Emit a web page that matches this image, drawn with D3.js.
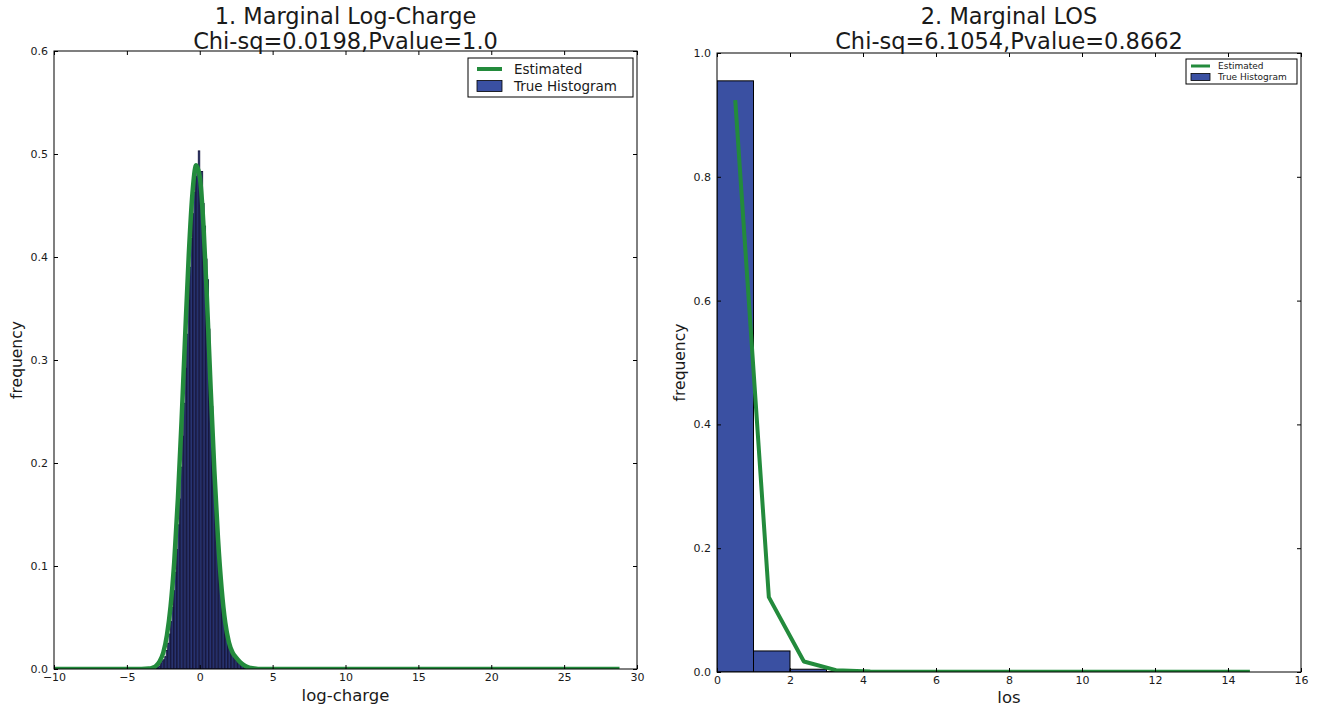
<!DOCTYPE html>
<html>
<head>
<meta charset="utf-8">
<script src="https://cdn.jsdelivr.net/npm/d3@7"></script>
<style>
  body { margin: 0; background: #fff; }
  text { font-family: "DejaVu Sans", sans-serif; fill: #1a1a1a; }
</style>
</head>
<body>
<svg id="chart" width="1320" height="707"></svg>
<script>
// ---- data: panel 1, log-charge ----
const chargeBinStart = -3.0;
const chargeBinWidth = 0.1;
const chargeHist = [
  0.001, 0.002, 0.003, 0.006, 0.008, 0.009, 0.012, 0.018, 0.025, 0.034,
  0.046, 0.060, 0.076, 0.094, 0.116, 0.140, 0.165, 0.196, 0.226, 0.258,
  0.292, 0.325, 0.358, 0.390, 0.418, 0.442, 0.463, 0.478, 0.489, 0.503,
  0.478, 0.483, 0.452, 0.430, 0.398, 0.378, 0.330, 0.292, 0.255, 0.219,
  0.185, 0.155, 0.128, 0.104, 0.084, 0.072, 0.060, 0.045, 0.035, 0.027,
  0.021, 0.017, 0.014, 0.011, 0.009, 0.008, 0.006, 0.005, 0.004, 0.003,
  0.002, 0.002, 0.001, 0.001
];
const chargeEstX = [-10, -4, -3.5, -3.25, -3, -2.75, -2.5, -2.25, -2, -1.75, -1.5, -1.25, -1, -0.75, -0.5, -0.25,
  0, 0.25, 0.5, 0.75, 1, 1.25, 1.5, 1.75, 2, 2.25, 2.5, 2.75, 3, 3.25, 3.5, 3.75, 4, 5, 28.8];
const chargeEstY = [0, 0.0001, 0.0004, 0.0012, 0.003, 0.0075, 0.016, 0.033, 0.061, 0.104, 0.165, 0.240, 0.324, 0.403, 0.462, 0.489,
  0.478, 0.432, 0.357, 0.272, 0.193, 0.127, 0.078, 0.045, 0.026, 0.016, 0.011, 0.007, 0.004, 0.002, 0.001, 0.0004, 0.0001, 0, 0];
const chargeXTicks = [-10, -5, 0, 5, 10, 15, 20, 25, 30];
const chargeYTicks = [0.0, 0.1, 0.2, 0.3, 0.4, 0.5, 0.6];

// ---- data: panel 2, LOS ----
const losBinEdges = [0, 1, 2, 3, 4];
const losHist = [0.955, 0.034, 0.0045, 0.0006];
const losEstX = [0.5, 1.42, 2.38, 3.26, 4.2, 6, 8, 10, 12, 14.6];
const losEstY = [0.924, 0.121, 0.017, 0.003, 0.0008, 0.0004, 0.0003, 0.0003, 0.0003, 0.0003];
const losXTicks = [0, 2, 4, 6, 8, 10, 12, 14, 16];
const losYTicks = [0.0, 0.2, 0.4, 0.6, 0.8, 1.0];

const green = "#238b3c";
const blue = "#3a50a2";

const svg = d3.select("#chart");

function panel(cfg) {
  const x = d3.scaleLinear().domain(cfg.xDomain).range([cfg.left, cfg.right]);
  const y = d3.scaleLinear().domain(cfg.yDomain).range([cfg.bottom, cfg.top]);
  const g = svg.append("g");

  const clipId = "clip" + cfg.id;
  g.append("clipPath").attr("id", clipId)
    .append("rect")
    .attr("x", cfg.left).attr("y", cfg.top)
    .attr("width", cfg.right - cfg.left).attr("height", cfg.bottom - cfg.top);

  const plot = g.append("g").attr("clip-path", `url(#${clipId})`);

  plot.selectAll("rect.bar")
    .data(cfg.bars)
    .join("rect")
    .attr("class", "bar")
    .attr("x", d => x(d.x0))
    .attr("width", d => x(d.x1) - x(d.x0))
    .attr("y", d => y(d.v))
    .attr("height", d => y(0) - y(d.v))
    .attr("fill", blue)
    .attr("stroke", cfg.barStroke)
    .attr("stroke-width", cfg.barStrokeWidth);

  plot.append("path")
    .datum(cfg.est)
    .attr("fill", "none")
    .attr("stroke", green)
    .attr("stroke-width", cfg.lineWidth)
    .attr("stroke-linejoin", "round")
    .attr("d", d3.line().x(d => x(d[0])).y(d => y(d[1])).curve(cfg.curve));

  // frame
  g.append("rect")
    .attr("x", cfg.left).attr("y", cfg.top)
    .attr("width", cfg.right - cfg.left).attr("height", cfg.bottom - cfg.top)
    .attr("fill", "none").attr("stroke", "#000").attr("stroke-width", 1);

  // axes with inward ticks on all four sides
  const tl = 4;
  g.append("g").attr("transform", `translate(0,${cfg.bottom})`)
    .call(d3.axisBottom(x).tickValues(cfg.xTicks).tickSizeInner(-tl).tickSizeOuter(0).tickPadding(4)
      .tickFormat(d => d < 0 ? "\u2212" + Math.abs(d) : d))
    .call(a => a.select(".domain").remove())
    .call(a => a.selectAll("text").attr("font-size", 11).attr("font-family", "DejaVu Sans"));
  g.append("g").attr("transform", `translate(0,${cfg.top})`)
    .call(d3.axisTop(x).tickValues(cfg.xTicks).tickSizeInner(-tl).tickSizeOuter(0).tickFormat(""))
    .call(a => a.select(".domain").remove());
  g.append("g").attr("transform", `translate(${cfg.left},0)`)
    .call(d3.axisLeft(y).tickValues(cfg.yTicks).tickSizeInner(-tl).tickSizeOuter(0).tickPadding(6)
      .tickFormat(d3.format(".1f")))
    .call(a => a.select(".domain").remove())
    .call(a => a.selectAll("text").attr("font-size", 11).attr("font-family", "DejaVu Sans"));
  g.append("g").attr("transform", `translate(${cfg.right},0)`)
    .call(d3.axisRight(y).tickValues(cfg.yTicks).tickSizeInner(-tl).tickSizeOuter(0).tickFormat(""))
    .call(a => a.select(".domain").remove());

  const cx = (cfg.left + cfg.right) / 2;
  g.append("text").attr("x", cx).attr("y", 24).attr("text-anchor", "middle")
    .attr("font-size", 22.5).text(cfg.title1);
  g.append("text").attr("x", cx).attr("y", 49).attr("text-anchor", "middle")
    .attr("font-size", 22.5).text(cfg.title2);

  g.append("text").attr("x", cx).attr("y", cfg.bottom + cfg.xLabelOff).attr("text-anchor", "middle")
    .attr("font-size", 16.5).text(cfg.xLabel);
  g.append("text")
    .attr("transform", `translate(${cfg.left - 37},${(cfg.top + cfg.bottom) / 2}) rotate(-90)`)
    .attr("text-anchor", "middle").attr("dy", "0.35em").attr("font-size", 15.5).text("frequency");

  // legend
  const lg = cfg.legend;
  const leg = g.append("g");
  leg.append("rect").attr("x", lg.x).attr("y", lg.y).attr("width", lg.w).attr("height", lg.h)
    .attr("fill", "#fff").attr("stroke", "#000").attr("stroke-width", 1);
  leg.append("line")
    .attr("x1", lg.x + lg.pad).attr("x2", lg.x + lg.pad + lg.sw)
    .attr("y1", lg.y + lg.row1).attr("y2", lg.y + lg.row1)
    .attr("stroke", green).attr("stroke-width", lg.lw);
  leg.append("rect")
    .attr("x", lg.x + lg.pad).attr("y", lg.y + lg.row2 - lg.ph / 2)
    .attr("width", lg.sw).attr("height", lg.ph)
    .attr("fill", blue).attr("stroke", "#000").attr("stroke-width", 0.8);
  leg.append("text").attr("x", lg.x + lg.tx).attr("y", lg.y + lg.row1).attr("dy", "0.35em")
    .attr("font-size", lg.fs).text("Estimated");
  leg.append("text").attr("x", lg.x + lg.tx).attr("y", lg.y + lg.row2).attr("dy", "0.35em")
    .attr("font-size", lg.fs).text("True Histogram");
}

panel({
  id: 1,
  left: 54, right: 637, top: 51, bottom: 669,
  xDomain: [-10, 30], yDomain: [0, 0.6],
  xTicks: chargeXTicks, yTicks: chargeYTicks,
  bars: chargeHist.map((v, i) => ({
    x0: chargeBinStart + i * chargeBinWidth,
    x1: chargeBinStart + (i + 1) * chargeBinWidth, v })),
  barStroke: "#15153a", barStrokeWidth: 0.9,
  est: chargeEstX.map((v, i) => [v, chargeEstY[i]]),
  curve: d3.curveMonotoneX,
  lineWidth: 4.5,
  title1: "1. Marginal Log-Charge",
  title2: "Chi-sq=0.0198,Pvalue=1.0",
  xLabel: "log-charge",
  xLabelOff: 32,
  legend: { x: 468, y: 58, w: 165, h: 39, pad: 9, sw: 25, row1: 11, row2: 28, ph: 11, lw: 4, tx: 46, fs: 13.5 }
});

panel({
  id: 2,
  left: 717, right: 1301, top: 53, bottom: 672,
  xDomain: [0, 16], yDomain: [0, 1.0],
  xTicks: losXTicks, yTicks: losYTicks,
  bars: losHist.map((v, i) => ({ x0: losBinEdges[i], x1: losBinEdges[i + 1], v })),
  barStroke: "#000", barStrokeWidth: 1,
  est: losEstX.map((v, i) => [v, losEstY[i]]),
  curve: d3.curveLinear,
  lineWidth: 4,
  title1: "2. Marginal LOS",
  title2: "Chi-sq=6.1054,Pvalue=0.8662",
  xLabel: "los",
  xLabelOff: 30.5,
  legend: { x: 1186, y: 59, w: 111, h: 25, pad: 5, sw: 19, row1: 7, row2: 18, ph: 7, lw: 3, tx: 32, fs: 9 }
});
</script>
</body>
</html>
